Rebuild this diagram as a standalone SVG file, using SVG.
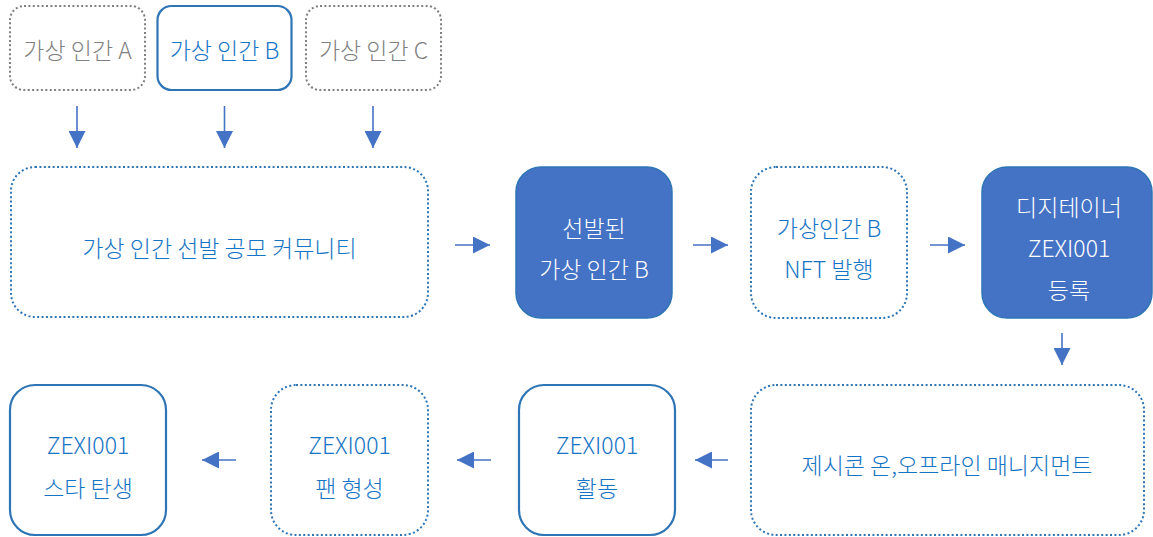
<svg xmlns="http://www.w3.org/2000/svg" width="1153" height="537" viewBox="0 0 1153 537">
<style>
text{font-family:"Noto Sans CJK KR","Noto Sans",sans-serif;font-size:23px;font-weight:300;text-anchor:middle;dominant-baseline:central}
.g{fill:#7f7f7f}
.b{fill:#1674c4}
.w{fill:#ffffff}
.dg{fill:#fff;stroke:#7f7f7f;stroke-width:2;stroke-dasharray:2 2.4}
.db{fill:#fff;stroke:#2e75b6;stroke-width:2;stroke-dasharray:2 2.4}
.sb{fill:#fff;stroke:#2e75b6;stroke-width:2.2}
.fb{fill:#4472c4;stroke:#2e75b6;stroke-width:1.5}
.c{fill:none;stroke:#4472c4;stroke-width:1.6}
</style>
<defs>
<marker id="ah" viewBox="0 0 17 17" refX="17" refY="8.5" markerWidth="17" markerHeight="17" markerUnits="userSpaceOnUse" orient="auto"><path d="M0 0L17 8.5L0 17z" fill="#4472c4"/></marker>
</defs>
<g id="nodeA"><rect class="dg" x="10" y="6" width="135" height="84" rx="14"/><text class="g" x="77.5" y="49">가상 인간 A</text></g>
<g id="nodeB"><rect class="sb" x="157.5" y="6" width="134" height="84" rx="14"/><text class="b" x="224.5" y="49">가상 인간 B</text></g>
<g id="nodeC"><rect class="dg" x="306" y="6" width="135" height="84" rx="14"/><text class="g" x="373.5" y="49">가상 인간 C</text></g>
<g id="community"><rect class="db" x="11" y="167" width="417" height="150" rx="24"/><text class="b" x="219.5" y="247">가상 인간 선발 공모 커뮤니티</text></g>
<g id="selected"><rect class="fb" x="516" y="167" width="156" height="151" rx="25"/><text class="w" x="594" y="227">선발된</text><text class="w" x="594" y="268">가상 인간 B</text></g>
<g id="nft"><rect class="db" x="751" y="167" width="156" height="151" rx="25"/><text class="b" x="829" y="227">가상인간 B</text><text class="b" x="829" y="268">NFT 발행</text></g>
<g id="register"><rect class="fb" x="982" y="167" width="170" height="151" rx="25"/><text class="w" x="1069" y="206">디지테이너</text><text class="w" x="1069" y="247">ZEXI001</text><text class="w" x="1069" y="289">등록</text></g>
<g id="management"><rect class="db" x="751" y="385" width="393" height="150" rx="25"/><text class="b" x="947" y="464">제시콘 온,오프라인 매니지먼트</text></g>
<g id="activity"><rect class="sb" x="519" y="385" width="156" height="150" rx="25"/><text class="b" x="597" y="444">ZEXI001</text><text class="b" x="597" y="487">활동</text></g>
<g id="fan"><rect class="db" x="271" y="385" width="157" height="150" rx="25"/><text class="b" x="349.5" y="444">ZEXI001</text><text class="b" x="349.5" y="487">팬 형성</text></g>
<g id="star"><rect class="sb" x="10" y="385" width="156" height="150" rx="25"/><text class="b" x="88" y="444">ZEXI001</text><text class="b" x="88" y="487">스타 탄생</text></g>
<g id="connectors">
<path class="c" d="M77 106V148" marker-end="url(#ah)"/>
<path class="c" d="M224.5 106V148" marker-end="url(#ah)"/>
<path class="c" d="M373 106V148" marker-end="url(#ah)"/>
<path class="c" d="M455 245H490" marker-end="url(#ah)"/>
<path class="c" d="M693 245H728" marker-end="url(#ah)"/>
<path class="c" d="M930 245H965" marker-end="url(#ah)"/>
<path class="c" d="M1062 333V365" marker-end="url(#ah)"/>
<path class="c" d="M728 460H695" marker-end="url(#ah)"/>
<path class="c" d="M491 460H457" marker-end="url(#ah)"/>
<path class="c" d="M236 460H202" marker-end="url(#ah)"/>
</g>
</svg>
